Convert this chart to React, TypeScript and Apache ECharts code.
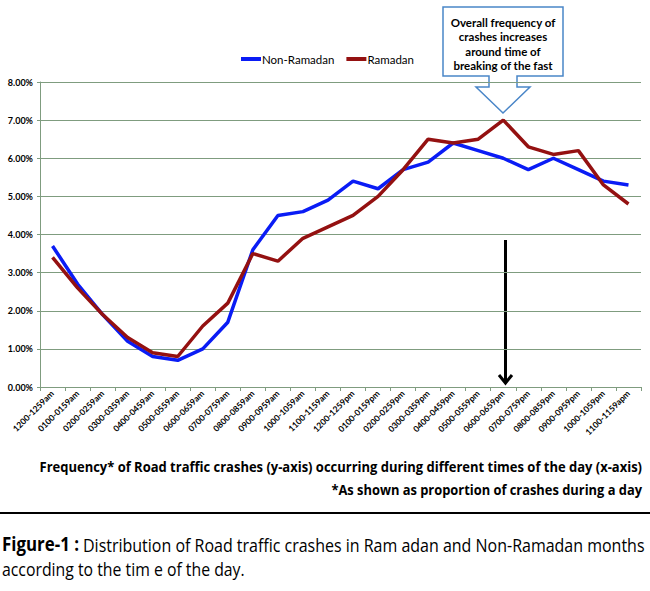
import React, { useEffect, useRef } from "react";
import * as echarts from "echarts";

const categories = [
  "1200-1259am", "0100-0159am", "0200-0259am", "0300-0359am", "0400-0459am", "0500-0559am",
  "0600-0659am", "0700-0759am", "0800-0859am", "0900-0959am", "1000-1059am", "1100-1159am",
  "1200-1259pm", "0100-0159pm", "0200-0259pm", "0300-0359pm", "0400-0459pm", "0500-0559pm",
  "0600-0659pm", "0700-0759pm", "0800-0859pm", "0900-0959pm", "1000-1059pm", "1100-1159apm",
];
const nonRamadan = [3.7, 2.7, 1.9, 1.2, 0.8, 0.7, 1.0, 1.7, 3.6, 4.5, 4.6, 4.9, 5.4, 5.2, 5.7, 5.9, 6.4, 6.2, 6.0, 5.7, 6.0, 5.7, 5.4, 5.3];
const ramadan = [3.4, 2.6, 1.9, 1.3, 0.9, 0.8, 1.6, 2.2, 3.5, 3.3, 3.9, 4.2, 4.5, 5.0, 5.7, 6.5, 6.4, 6.5, 7.0, 6.3, 6.1, 6.2, 5.3, 4.8];
const seriesNames = ["Non-Ramadan", "Ramadan"];
const calloutLines = ["Overall frequency of", "crashes increases", "around time of", "breaking of the fast"];
const noteLine1 = "Frequency* of Road traffic crashes (y-axis) occurring during different times of the day (x-axis)";
const noteLine2 = "*As shown as proportion of crashes during a day";
const captionBold = "Figure-1 :";
const captionLine1 = "Distribution of Road traffic crashes in Ram adan and Non-Ramadan months";
const captionLine2 = "according to the tim e of the day.";

const GRID = "#7f9c7f";

function fit(text: string, font: string, target: number): number {
  const ctx = document.createElement("canvas").getContext("2d");
  if (!ctx) return 1;
  ctx.font = font;
  const w = ctx.measureText(text).width;
  return w > 0 ? target / w : 1;
}

export default function App() {
  const ref = useRef<HTMLDivElement>(null);
  useEffect(() => {
    if (!ref.current) return;
    const chart = echarts.init(ref.current, null, { renderer: "svg" });
    const noteFont = "bold 15px 'Open Sans'";
    const capBoldFont = "bold 19px 'Open Sans'";
    const capFont = "19px 'Open Sans'";
    const textEl = (text: string, x: number, y: number, font: string, align: string, target: number) => ({
      type: "text",
      x,
      y,
      scaleX: fit(text, font, target),
      style: { text, x: 0, y: 0, font, fill: "#000", align, verticalAlign: "middle" },
    });
    const option: any = {
      animation: false,
      legend: {
        left: 241,
        top: 53,
        padding: 0,
        icon: "rect",
        itemWidth: 20,
        itemHeight: 4,
        itemGap: 12,
        data: seriesNames,
        textStyle: { fontSize: 11.5, fontFamily: "Lato", color: "#000", padding: [0, 0, 0, -4] },
      },
      grid: { left: 40, right: 9, top: 82, bottom: 204, containLabel: false, outerBoundsMode: "none" },
      xAxis: {
        type: "category",
        data: categories,
        boundaryGap: true,
        axisLine: { lineStyle: { color: GRID, width: 1 } },
        axisTick: { show: true, length: 4, lineStyle: { color: GRID } },
        axisLabel: {
          interval: 0,
          rotate: 45,
          margin: 5,
          fontSize: 8.5,
          fontWeight: "bold",
          fontFamily: "Lato",
          color: "#000",
        },
      },
      yAxis: {
        type: "value",
        min: 0,
        max: 8,
        interval: 1,
        axisLine: { show: true, lineStyle: { color: GRID, width: 1 } },
        axisTick: { show: true, length: 3, lineStyle: { color: GRID } },
        axisLabel: {
          margin: 7,
          fontSize: 9,
          fontWeight: "bold",
          fontFamily: "Lato",
          color: "#000",
          formatter: (v: number) => v.toFixed(2) + "%",
        },
        splitLine: { lineStyle: { color: GRID, width: 1 } },
      },
      series: [
        {
          name: seriesNames[0],
          type: "line",
          data: nonRamadan,
          symbol: "none",
          itemStyle: { color: "#0a1cf5" },
          lineStyle: { color: "#0a1cf5", width: 3.5 },
        },
        {
          name: seriesNames[1],
          type: "line",
          data: ramadan,
          symbol: "none",
          itemStyle: { color: "#941111" },
          lineStyle: { color: "#941111", width: 3.5 },
        },
      ],
      graphic: [
        {
          type: "polygon",
          shape: {
            points: [
              [443, 7], [563, 7], [563, 76], [517, 76], [517, 87], [530, 87], [503, 113],
              [476, 87], [489, 87], [489, 76], [443, 76],
            ],
          },
          style: { fill: "#fff", stroke: "#4a86c8", lineWidth: 1.5 },
        },
        ...calloutLines.map((t, i) => ({
          type: "text",
          x: 503,
          y: 22 + i * 14.5,
          style: { text: t, x: 0, y: 0, font: "bold 11.5px Lato", fill: "#000", align: "center", verticalAlign: "middle" },
        })),
        {
          type: "line",
          shape: { x1: 505.5, y1: 240, x2: 505.5, y2: 382 },
          style: { stroke: "#000", lineWidth: 3 },
        },
        {
          type: "polyline",
          shape: { points: [[499, 375], [505.5, 383], [512, 375]] },
          style: { stroke: "#000", lineWidth: 3, fill: "none" },
        },
        textEl(noteLine1, 642, 466, noteFont, "right", 603),
        textEl(noteLine2, 642, 489, noteFont, "right", 311),
        {
          type: "line",
          shape: { x1: 0, y1: 513, x2: 650, y2: 513 },
          style: { stroke: "#000", lineWidth: 2 },
        },
        textEl(captionBold, 2, 544, capBoldFont, "left", 77),
        textEl(captionLine1, 83, 544, capFont, "left", 562),
        textEl(captionLine2, 2, 568, capFont, "left", 243),
      ],
    };
    chart.setOption(option);
    return () => chart.dispose();
  }, []);
  return (
    <div
      ref={ref}
      style={{ position: "absolute", left: 0, top: 0, width: 650, height: 591, background: "#fff" }}
    />
  );
}
